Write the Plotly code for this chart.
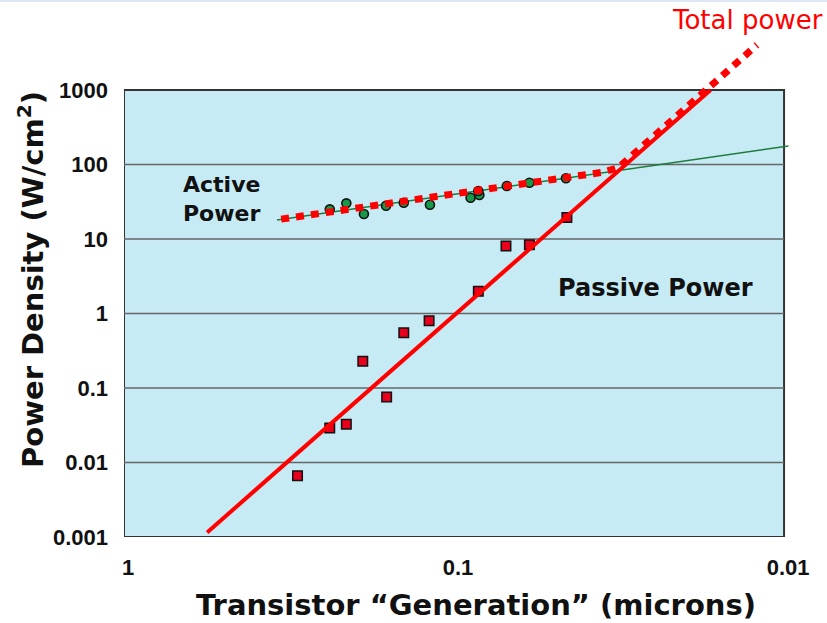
import plotly.graph_objects as go

# ---- data ----
passive_x = [0.298, 0.238, 0.212, 0.189, 0.160, 0.142, 0.119, 0.0844, 0.0696, 0.0591, 0.0455]
passive_y = [0.00665, 0.0290, 0.0326, 0.228, 0.0757, 0.552, 0.80, 1.99, 8.05, 8.37, 19.5]

active_x = [0.238, 0.212, 0.1875, 0.1607, 0.142, 0.1183, 0.0891, 0.0838, 0.0844, 0.0692, 0.0591, 0.0458]
active_y = [25.0, 30.1, 21.7, 28.0, 30.7, 28.8, 35.8, 39.0, 44.1, 51.4, 57.0, 65.3]

passive_fit_x = [0.56, 0.0167]
passive_fit_y = [0.00115, 1000]

active_fit_x = [0.344, 0.0097]
active_fit_y = [18.0, 177]

total_x = [0.334, 0.0356, 0.0318, 0.0293, 0.01208]
total_y = [18.5, 78.5, 90.6, 125, 4020]

x_ticks = [1, 0.1, 0.01]
x_ticktext = ["1", "0.1", "0.01"]
y_ticks = [0.001, 0.01, 0.1, 1, 10, 100, 1000]
y_ticktext = ["0.001", "0.01", "0.1", "1", "10", "100", "1000"]
grid_y = [0.01, 0.1, 1, 10, 100]

RED = "#ff0000"
fig = go.Figure()

fig.add_trace(go.Scatter(x=active_fit_x, y=active_fit_y, mode="lines",
                         line=dict(color="#1e7b3c", width=1.5), showlegend=False))
fig.add_trace(go.Scatter(x=active_x, y=active_y, mode="markers",
                         marker=dict(symbol="circle", size=9, color="#17994a",
                                     line=dict(color="#111111", width=1.6)),
                         showlegend=False))
fig.add_trace(go.Scatter(x=passive_x, y=passive_y, mode="markers",
                         marker=dict(symbol="square", size=9.5, color="#e8001c",
                                     line=dict(color="#111111", width=1.5)),
                         showlegend=False))
fig.add_trace(go.Scatter(x=passive_fit_x, y=passive_fit_y, mode="lines",
                         line=dict(color=RED, width=4), showlegend=False))
fig.add_trace(go.Scatter(x=total_x, y=total_y, mode="lines",
                         line=dict(color=RED, width=7, dash="8px,7px"), showlegend=False))

shapes = [dict(type="rect", xref="x", yref="y", x0=1, x1=0.01, y0=0.001, y1=1000,
               fillcolor="#c6ebf4", line=dict(color="#333333", width=2), layer="below")]
for g in grid_y:
    shapes.append(dict(type="line", xref="x", yref="y", x0=1, x1=0.01, y0=g, y1=g,
                       line=dict(color="#666666", width=1.5), layer="below"))
shapes.append(dict(type="line", xref="paper", yref="paper", x0=-0.19, x1=1.06,
                   y0=1.0171, y1=1.0171, line=dict(color="#dde8f4", width=2)))

BOLD = "DejaVu Sans"
annotations = [
    dict(text="Active<br>Power", xref="paper", yref="paper", x=0.0856, y=0.6414,
         xanchor="left", yanchor="middle", align="left", showarrow=False,
         font=dict(family=BOLD, size=22, color="#111111", weight="bold")),
    dict(text="Passive Power", xref="paper", yref="paper", x=0.6486, y=0.4725,
         xanchor="left", yanchor="middle", showarrow=False,
         font=dict(family=BOLD, size=24, color="#111111", weight="bold")),
    dict(text="Total power", xref="paper", yref="paper", x=1.0526, y=0.981,
         xanchor="right", yanchor="middle", showarrow=False,
         font=dict(family=BOLD, size=26, color=RED)),
    dict(text="Transistor “Generation” (microns)", xref="paper", yref="paper",
         x=0.5285, y=-0.129, xanchor="center", yanchor="middle", showarrow=False,
         font=dict(family=BOLD, size=29, color="#111111", weight="bold")),
    dict(text="Power Density (W/cm<sup>2</sup>)", xref="paper", yref="paper",
         x=-0.1396, y=0.4877, xanchor="center", yanchor="middle", showarrow=False,
         textangle=-90,
         font=dict(family=BOLD, size=29, color="#111111", weight="bold")),
]

tickfont = dict(family="Liberation Sans", size=22, color="#111111", weight="bold")
fig.update_layout(
    width=827, height=623,
    margin=dict(l=124, r=37, t=10, b=86),
    paper_bgcolor="white", plot_bgcolor="white",
    shapes=shapes, annotations=annotations, showlegend=False,
    xaxis=dict(type="log", range=[0, -2.018], autorange=False,
               tickvals=x_ticks, ticktext=x_ticktext, showgrid=False, zeroline=False,
               showline=False, ticks="", tickfont=tickfont,
               ticklabelstandoff=15, ticklabelshift=-4),
    yaxis=dict(type="log", range=[-3, 4.0738], autorange=False,
               tickvals=y_ticks, ticktext=y_ticktext, showgrid=False, zeroline=False,
               showline=False, ticks="", tickfont=tickfont, ticklabelstandoff=15),
)

fig.write_html("out.html")
